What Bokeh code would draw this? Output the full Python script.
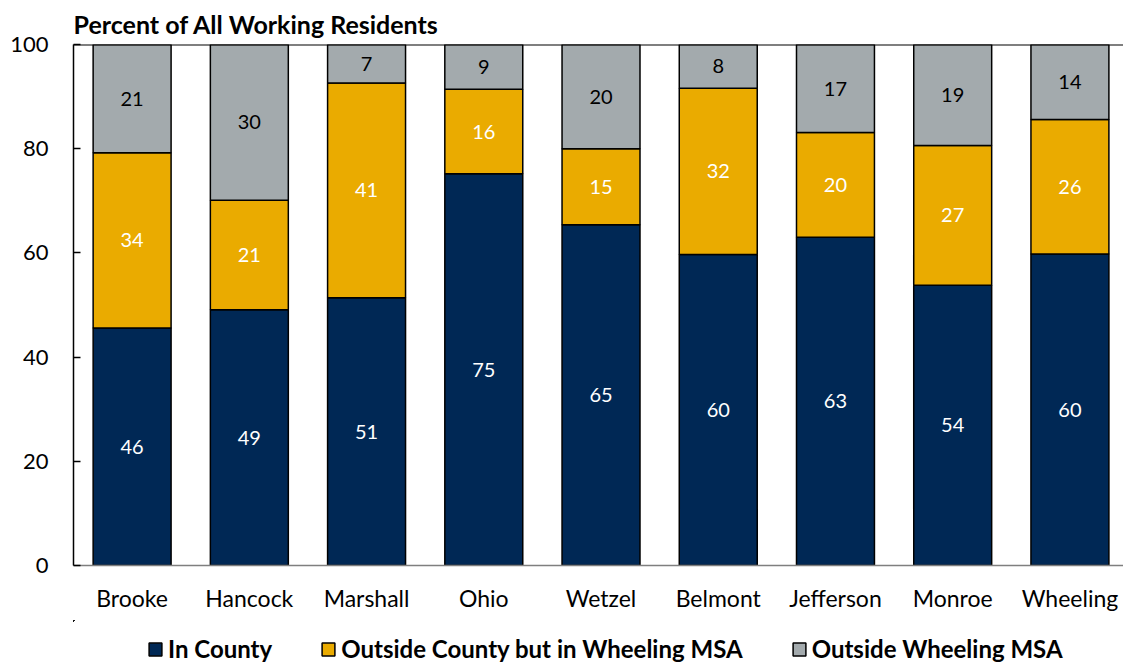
from bokeh.plotting import figure
from bokeh.layouts import column
from bokeh.models import ColumnDataSource, Range1d, Span, Legend, LegendItem, FixedTicker, LabelSet
from bokeh.core.properties import value
from bokeh.embed import file_html
from bokeh.resources import INLINE

counties = ["Brooke", "Hancock", "Marshall", "Ohio", "Wetzel", "Belmont", "Jefferson", "Monroe", "Wheeling"]
in_county = [45.6, 49.1, 51.4, 75.2, 65.4, 59.7, 63.0, 53.8, 59.8]
outside_county = [33.6, 21.0, 41.2, 16.2, 14.6, 31.9, 20.1, 26.8, 25.8]
outside_msa = [20.8, 29.9, 7.4, 8.6, 20.0, 8.4, 16.9, 19.4, 14.4]
series_names = ["In County", "Outside County but in Wheeling MSA", "Outside Wheeling MSA"]
colors = ["#002855", "#EAAB00", "#A3AAAD"]
label_colors = ["white", "white", "black"]
y_ticks = [0, 20, 40, 60, 80, 100]

FONT = "Lato"
keys = ["a", "b", "c"]
x = list(range(len(counties)))
data = dict(x=x, a=in_county, b=outside_county, c=outside_msa)
source = ColumnDataSource(data)

p = figure(width=1123, height=620, output_backend="svg", toolbar_location=None,
           x_range=Range1d(-0.5, 8.457), y_range=Range1d(0, 100),
           min_border_left=73, min_border_right=0, min_border_top=44, min_border_bottom=55)
p.title.text = "Percent of All Working Residents"
p.title.text_font = FONT
p.title.text_font_size = "25px"
p.title.text_font_style = "bold"
p.title.text_color = "black"
p.title.align = "left"
p.title.standoff = 11

renderers = p.vbar_stack(keys, x="x", width=0.665, color=colors, line_color="black",
                         line_width=1.5, source=source)

bottoms = [0.0] * len(x)
for vals, lc in zip([in_county, outside_county, outside_msa], label_colors):
    mids = [b + v / 2 for b, v in zip(bottoms, vals)]
    txt = [f"{v:.0f}" for v in vals]
    ls = ColumnDataSource(dict(x=x, y=mids, t=txt))
    p.add_layout(LabelSet(x="x", y="y", text="t", source=ls, text_align="center",
                          text_baseline="middle", text_color=lc, text_font=value(FONT),
                          text_font_size="20px"))
    bottoms = [b + v for b, v in zip(bottoms, vals)]

p.add_layout(Span(location=100, dimension="width", line_color="black", line_width=2))

p.xgrid.visible = False
p.ygrid.visible = False
p.outline_line_color = None

p.yaxis.ticker = FixedTicker(ticks=y_ticks)
p.yaxis.axis_line_color = "black"
p.yaxis.axis_line_width = 1.5
p.yaxis.major_tick_out = 0
p.yaxis.major_tick_in = 7
p.yaxis.major_tick_line_width = 1.5
p.yaxis.minor_tick_line_color = None
p.yaxis.major_label_text_font = FONT
p.yaxis.major_label_text_font_size = "22px"
p.yaxis.major_label_text_color = "black"
p.yaxis.major_label_standoff = 25

p.xaxis.ticker = FixedTicker(ticks=x)
p.xaxis.major_label_overrides = {i: c for i, c in enumerate(counties)}
p.xaxis.axis_line_color = "#7f7f7f"
p.xaxis.axis_line_width = 1.5
p.xaxis.major_tick_line_color = None
p.xaxis.minor_tick_line_color = None
p.xaxis.major_label_text_font = FONT
p.xaxis.major_label_text_font_size = "23px"
p.xaxis.major_label_text_color = "black"
p.xaxis.major_label_standoff = 12

# legend strip below the chart (its bars lie outside its visible ranges; only the legend shows)
lf = figure(width=1123, height=43, output_backend="svg", toolbar_location=None,
            x_range=Range1d(20, 21), y_range=Range1d(-2, -1), x_axis_type=None, y_axis_type=None,
            min_border=0)
lf.outline_line_color = None
leg_renderers = lf.vbar_stack(keys, x="x", width=0.665, color=colors, line_color="black",
                              line_width=1.5, source=source)
legend = Legend(items=[LegendItem(label=n, renderers=[r]) for n, r in zip(series_names, leg_renderers)],
                orientation="horizontal", location=(74, 0),
                label_text_font=FONT, label_text_font_size="24px", label_text_font_style="bold",
                label_text_color="black",
                glyph_width=16, glyph_height=16, label_standoff=5, spacing=48,
                border_line_color=None, background_fill_alpha=0, padding=0, margin=0)
lf.add_layout(legend)

layout = column(p, lf, spacing=0)
open("out.html", "w").write(file_html(layout, INLINE))
